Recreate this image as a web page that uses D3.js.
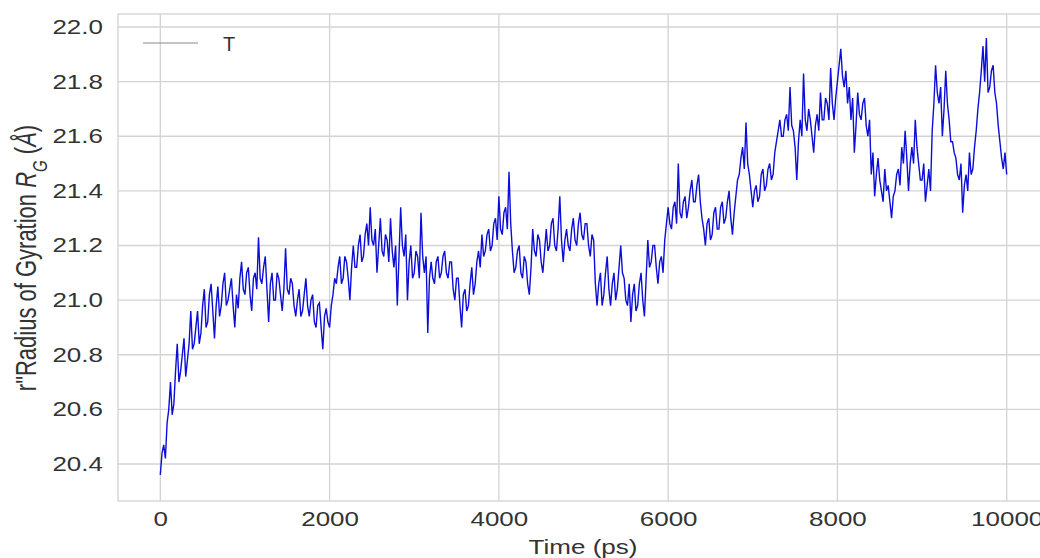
<!DOCTYPE html>
<html>
<head>
<meta charset="utf-8">
<script src="https://cdn.jsdelivr.net/npm/d3@7"></script>
<style>
  body { margin: 0; background: #fff; }
  svg { display: block; font-family: "Liberation Sans", Arial, sans-serif; }
</style>
</head>
<body>
<div id="plot"></div>
<script>
// time axis (ps), sampled every 20 ps
let timeStart = 0;
let timeStep = 20;
// radius of gyration (Å), 400 ps per row
let rg = [
  20.36, 20.44, 20.47, 20.42, 20.55, 20.60, 20.70, 20.58, 20.62, 20.74, 20.84, 20.70, 20.74, 20.80, 20.86, 20.72, 20.78, 20.84, 20.96, 20.82,
  20.84, 20.90, 20.96, 20.84, 20.88, 20.98, 21.04, 20.90, 20.92, 21.02, 21.06, 20.96, 20.86, 20.98, 21.05, 20.94, 20.98, 21.06, 21.10, 20.98,
  21.00, 21.04, 21.08, 20.98, 20.90, 21.02, 20.97, 21.08, 21.14, 21.04, 21.02, 21.10, 21.12, 21.02, 20.96, 21.08, 21.10, 21.04, 21.23, 21.08,
  21.06, 21.12, 21.16, 21.04, 20.92, 21.06, 21.10, 21.00, 21.00, 21.10, 21.08, 21.02, 20.96, 21.04, 21.19, 21.04, 21.02, 21.08, 21.06, 20.98,
  20.94, 21.00, 21.04, 20.94, 20.96, 21.02, 21.08, 20.98, 20.94, 21.00, 21.02, 20.92, 20.90, 20.98, 20.99, 20.90, 20.82, 20.94, 20.97, 20.92,
  20.90, 20.98, 21.02, 21.08, 21.06, 21.12, 21.16, 21.06, 21.08, 21.16, 21.14, 21.08, 21.00, 21.12, 21.20, 21.12, 21.12, 21.20, 21.24, 21.14,
  21.16, 21.24, 21.28, 21.20, 21.34, 21.22, 21.20, 21.26, 21.10, 21.20, 21.30, 21.18, 21.16, 21.24, 21.22, 21.14, 21.30, 21.18, 21.12, 21.20,
  20.98, 21.16, 21.34, 21.20, 21.16, 21.24, 21.00, 21.14, 21.20, 21.08, 21.10, 21.18, 21.16, 21.08, 21.32, 21.16, 21.10, 21.16, 20.88, 21.08,
  21.14, 21.08, 21.06, 21.14, 21.16, 21.08, 21.10, 21.16, 21.18, 21.10, 21.08, 21.14, 21.14, 21.04, 21.00, 21.08, 21.08, 20.98, 20.90, 21.02,
  21.04, 20.96, 20.98, 21.06, 21.12, 21.02, 21.06, 21.14, 21.18, 21.12, 21.24, 21.16, 21.18, 21.24, 21.26, 21.18, 21.20, 21.28, 21.30, 21.22,
  21.38, 21.26, 21.24, 21.32, 21.34, 21.26, 21.47, 21.28, 21.18, 21.10, 21.12, 21.18, 21.20, 21.10, 21.08, 21.16, 21.14, 21.06, 21.02, 21.12,
  21.26, 21.18, 21.16, 21.24, 21.22, 21.14, 21.10, 21.18, 21.26, 21.18, 21.20, 21.28, 21.30, 21.20, 21.18, 21.26, 21.38, 21.22, 21.14, 21.22,
  21.26, 21.20, 21.18, 21.26, 21.30, 21.22, 21.20, 21.28, 21.32, 21.24, 21.22, 21.28, 21.28, 21.20, 21.16, 21.24, 21.22, 21.06, 20.98, 21.06,
  21.10, 20.98, 21.02, 21.10, 21.16, 21.04, 20.98, 21.06, 21.10, 21.00, 21.04, 21.12, 21.20, 21.10, 21.08, 21.00, 20.98, 21.06, 20.92, 21.02,
  21.06, 20.96, 20.98, 21.06, 21.10, 21.00, 20.94, 21.08, 21.22, 21.12, 21.14, 21.20, 21.20, 21.12, 21.06, 21.14, 21.16, 21.10, 21.22, 21.28,
  21.34, 21.28, 21.26, 21.34, 21.36, 21.28, 21.50, 21.32, 21.30, 21.36, 21.38, 21.30, 21.34, 21.40, 21.44, 21.36, 21.36, 21.42, 21.46, 21.36,
  21.30, 21.26, 21.20, 21.28, 21.30, 21.22, 21.24, 21.32, 21.34, 21.26, 21.26, 21.34, 21.36, 21.28, 21.30, 21.36, 21.40, 21.30, 21.24, 21.32,
  21.38, 21.44, 21.46, 21.52, 21.56, 21.48, 21.65, 21.50, 21.46, 21.40, 21.34, 21.40, 21.42, 21.36, 21.38, 21.46, 21.48, 21.40, 21.42, 21.48,
  21.50, 21.44, 21.46, 21.54, 21.58, 21.62, 21.66, 21.60, 21.60, 21.66, 21.68, 21.62, 21.78, 21.64, 21.62, 21.56, 21.44, 21.58, 21.66, 21.60,
  21.83, 21.66, 21.62, 21.70, 21.66, 21.60, 21.54, 21.64, 21.68, 21.62, 21.76, 21.66, 21.66, 21.74, 21.72, 21.66, 21.85, 21.72, 21.66, 21.74,
  21.80, 21.86, 21.92, 21.82, 21.78, 21.84, 21.72, 21.78, 21.66, 21.74, 21.54, 21.64, 21.76, 21.68, 21.66, 21.72, 21.74, 21.64, 21.60, 21.66,
  21.46, 21.54, 21.38, 21.46, 21.52, 21.44, 21.40, 21.36, 21.48, 21.40, 21.42, 21.36, 21.30, 21.38, 21.40, 21.46, 21.48, 21.42, 21.56, 21.50,
  21.62, 21.52, 21.40, 21.50, 21.56, 21.50, 21.66, 21.56, 21.50, 21.44, 21.44, 21.50, 21.36, 21.42, 21.48, 21.40, 21.62, 21.72, 21.86, 21.76,
  21.72, 21.78, 21.60, 21.70, 21.84, 21.72, 21.66, 21.58, 21.58, 21.54, 21.52, 21.46, 21.44, 21.50, 21.32, 21.42, 21.46, 21.40, 21.54, 21.46,
  21.48, 21.56, 21.62, 21.70, 21.76, 21.84, 21.93, 21.80, 21.96, 21.76, 21.78, 21.84, 21.86, 21.76, 21.72, 21.64, 21.58, 21.52, 21.48, 21.54,
  21.46
];
let xTicks = [0, 2000, 4000, 6000, 8000, 10000];
let yTicks = [20.4, 20.6, 20.8, 21.0, 21.2, 21.4, 21.6, 21.8, 22.0];
let seriesName = 'T';

let svgWidth = 1040;
let svgHeight = 558;
let margin = { top: 14, right: -9, bottom: 57, left: 118 };
let width = svgWidth - margin.left - margin.right;
let height = svgHeight - margin.top - margin.bottom;
// the reference picture is stretched sideways, so is its text
let stretch = 1.3;

let data = rg.map((v, i) => ({ t: timeStart + i * timeStep, r: v }));

let xScale = d3.scaleLinear()
                .domain([-500, 10500])
                .range([0, width]);

let yScale = d3.scaleLinear()
                .domain([20.2645, 22.0476])
                .range([height, 0]);

let svg = d3.select('#plot')
            .append('svg')
            .attr('width', svgWidth)
            .attr('height', svgHeight);

let chart = svg.append('g')
            .attr('transform', `translate(${margin.left},${margin.top})`);

// grid
chart.append('g')
    .selectAll('line')
    .data(xTicks)
    .join('line')
        .attr('x1', d => xScale(d)).attr('x2', d => xScale(d))
        .attr('y1', 0).attr('y2', height)
        .attr('stroke', '#d3d3d3').attr('stroke-width', 1.3);

chart.append('g')
    .selectAll('line')
    .data(yTicks)
    .join('line')
        .attr('x1', 0).attr('x2', width)
        .attr('y1', d => yScale(d)).attr('y2', d => yScale(d))
        .attr('stroke', '#d3d3d3').attr('stroke-width', 1.3);

chart.append('rect')
    .attr('width', width).attr('height', height)
    .attr('fill', 'none')
    .attr('stroke', '#d3d3d3').attr('stroke-width', 1.3);

// axes
let xAxis = d3.axisBottom(xScale).tickValues(xTicks).tickSize(0).tickPadding(11).tickFormat(d3.format('d'));
let yAxis = d3.axisLeft(yScale).tickValues(yTicks).tickSize(0).tickPadding(15 / stretch).tickFormat(d3.format('.1f'));

let gx = chart.append('g')
    .attr('transform', `translate(0,${height})`)
    .call(xAxis);
let gy = chart.append('g')
    .call(yAxis);

[gx, gy].forEach(g => {
    g.select('.domain').remove();
    g.selectAll('text')
        .attr('fill', '#333')
        .attr('transform', `scale(${stretch},1)`)
        .style('font-size', '20px')
        .style('font-family', '"Liberation Sans", Arial, sans-serif');
});

// line
let line = d3.line()
    .x(d => xScale(d.t))
    .y(d => yScale(d.r));

chart.append('path')
    .datum(data)
    .attr('fill', 'none')
    .attr('stroke', '#0d0dd9')
    .attr('stroke-width', 1.4)
    .attr('d', line);

// legend
let legend = chart.append('g').attr('transform', 'translate(25,29)');
legend.append('line')
    .attr('x1', 0).attr('x2', 55)
    .attr('y1', 0).attr('y2', 0)
    .attr('stroke', '#8a8a8a').attr('stroke-width', 1.2);
legend.append('text')
    .attr('x', 80).attr('y', 8)
    .attr('fill', '#333')
    .style('font-size', '20px')
    .text(seriesName);

// axis labels
svg.append('text')
    .attr('transform', `translate(583,554) scale(${stretch},1)`)
    .attr('text-anchor', 'middle')
    .attr('fill', '#333')
    .style('font-size', '20px')
    .text('Time (ps)');

let ylab = svg.append('text')
    .attr('transform', `translate(36,258) scale(${stretch},1) rotate(-90)`)
    .attr('text-anchor', 'middle')
    .attr('fill', '#333')
    .style('font-size', '22px');
ylab.append('tspan').text('r"Radius of Gyration ');
ylab.append('tspan').style('font-style', 'italic').text('R');
ylab.append('tspan').attr('baseline-shift', 'sub').style('font-size', '15px').style('font-style', 'italic').text('G');
ylab.append('tspan').text(' (');
ylab.append('tspan').style('font-style', 'italic').text('Å');
ylab.append('tspan').text(')');
</script>
</body>
</html>
